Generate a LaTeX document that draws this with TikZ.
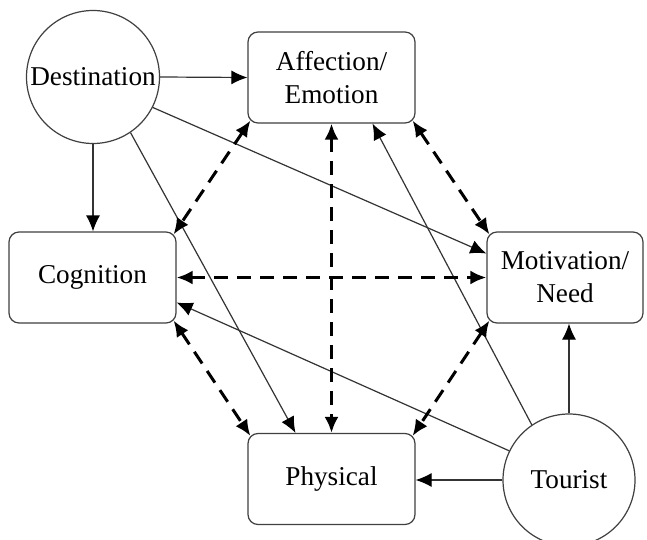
\documentclass[tikz,border=0pt]{standalone}
\usepackage{fontspec}
\setmainfont{Liberation Serif}
\usetikzlibrary{arrows.meta}

\begin{document}
\begin{tikzpicture}[x=0.5pt,y=-0.5pt,
		every node/.style={font=\fontsize{13.6}{16.5}\selectfont,align=center},
		box/.style={draw=black!75,line width=0.6pt,rounded corners=5pt,minimum width=83.5pt,minimum height=45.5pt,inner sep=0pt},
		ring/.style={draw=black!75,line width=0.6pt,circle,inner sep=0pt},
		link/.style={draw=black!80,line width=0.6pt,-{Latex[length=8pt,width=7pt,black]}},
		both/.style={line width=1.5pt,dash pattern=on 7pt off 4.5pt,{Latex[length=8pt,width=7pt]}-{Latex[length=8pt,width=7pt]}}]
			\useasboundingbox (0,0) rectangle (647,540);
			\clip (0,0) rectangle (647,540);
			\fill[white] (0,0) rectangle (647,540);
			\node[ring,minimum size=66.5pt] (dest) at (93,77) {Destination};
			\node[ring,minimum size=66pt] (tour) at (569,480) {Tourist};
			\node[box] (aff) at (331.5,77.5) {Affection/\\Emotion};
			\node[box] (cog) at (92.5,277.5) {Cognition};
			\node[box,minimum width=78pt] (mot) at (565,277.5) {Motivation/\\Need};
			\node[box] (phys) at (331.5,479) {Physical};
			\draw[link] (dest.east) -- (aff.west);
			\draw[link] (dest.south) -- (dest.south |- cog.north);
			\draw[link] (dest.-27) -- ([yshift=12pt]mot.west);
			\draw[link] (dest.-56) -- ([xshift=-18pt]phys.north);
			\draw[link] (tour.west) -- (tour.west -| phys.east);
			\draw[link] (tour.north) -- (tour.north |- mot.south);
			\draw[link] (tour.154) -- ([yshift=-12.5pt]cog.east);
			\draw[link] (tour.124) -- ([xshift=20.5pt]aff.south);
			\draw[both] ([shift={(1.5pt,1.5pt)}]aff.south west) -- ([shift={(-1.5pt,-1.5pt)}]cog.north east);
			\draw[both] ([shift={(-1.5pt,1.5pt)}]aff.south east) -- ([shift={(1.5pt,-1.5pt)}]mot.north west);
			\draw[both] (aff.south) -- (phys.north);
			\draw[both] (cog.east) -- (cog.east -| mot.west);
			\draw[both] ([shift={(-1.5pt,1.5pt)}]cog.south east) -- ([shift={(1.5pt,-1.5pt)}]phys.north west);
			\draw[both] ([shift={(1.5pt,1.5pt)}]mot.south west) -- ([shift={(-1.5pt,-1.5pt)}]phys.north east);
		\end{tikzpicture}
\end{document}
